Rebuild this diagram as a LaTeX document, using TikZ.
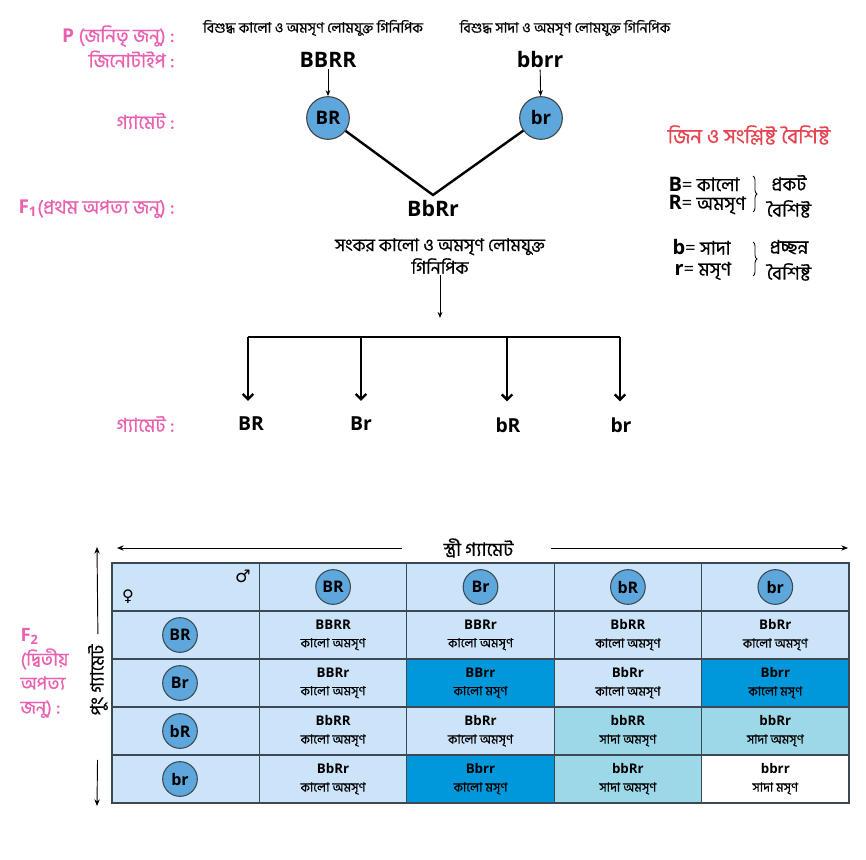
\documentclass[tikz,border=0pt]{standalone}
\usepackage{fontspec}
\setmainfont{Open Sans}
\newfontfamily\bn[Script=Bengali, FakeBold=0.5]{Hind Siliguri}
\newfontfamily\sym{DejaVu Sans}
\usetikzlibrary{arrows.meta,decorations.pathreplacing}

\definecolor{lblpink}{RGB}{234,96,176}
\definecolor{headred}{RGB}{229,68,80}
\definecolor{lightcell}{RGB}{204,228,250}
\definecolor{darkcell}{RGB}{0,152,218}
\definecolor{tealcell}{RGB}{157,216,233}
\definecolor{gamfill}{RGB}{94,167,220}
\definecolor{gridc}{RGB}{62,72,82}

\newcommand\gtype[1]{{\rmfamily\bfseries\fontsize{10}{13}\selectfont #1}}

\tikzset{every picture/.style={line width=0.75pt}}
\tikzset{
  pinklbl/.style={anchor=east, inner sep=0.75pt, text=lblpink, font=\bn\fontsize{14.3}{17}\selectfont},
  desc/.style={inner sep=0.75pt, font=\bn\fontsize{10.7}{13}\selectfont},
  geno/.style={inner sep=0.75pt, font=\fontsize{16}{19}\bfseries},
  gamete/.style={circle, draw=black!75, fill=gamfill, minimum size=32pt, inner sep=0pt, line width=0.8pt, font=\fontsize{14}{16}\bfseries},
  tgam/.style={circle, draw=gridc, fill=gamfill, minimum size=26pt, inner sep=0pt, line width=0.8pt, font=\fontsize{12}{14}\bfseries},
  gamtxt/.style={inner sep=0.75pt, font=\fontsize{14.5}{17}\bfseries},
  thinarr/.style={-{Stealth[length=4.5pt,width=3.5pt]}, line width=0.7pt},
  thickarr/.style={-{Straight Barb[length=4pt,width=8pt]}, line width=1.8pt},
  vline/.style={line width=1.8pt},
  tarr/.style={-{Stealth[length=5pt,width=4pt]}, line width=0.7pt},
  brc/.style={decorate, decoration={brace, amplitude=3pt}, line width=0.6pt},
  legl/.style={anchor=west, inner sep=0.75pt, font=\bn\fontsize{14}{16}\selectfont},
  legr/.style={inner sep=0.75pt, font=\bn\fontsize{14}{16}\selectfont},
  pcell/.style={rectangle, draw=gridc, line width=1pt, minimum width=110.55pt, minimum height=36pt, inner sep=0pt, align=center, font=\bn\fontsize{9.5}{13.5}\selectfont},
}

\begin{document}
\begin{tikzpicture}[x=0.75pt,y=0.75pt,yscale=-1,xscale=1]
\useasboundingbox (0,0) rectangle (866,859);

% Text Node
\node (pLbl) [pinklbl] at (176,36) {{\rmfamily\bfseries P} (জনিতৃ জনু) :};
% Text Node
\node (genoLbl) [pinklbl] at (176,59) {জিনোটাইপ :};
% Text Node
\node (gamLblA) [pinklbl] at (176,121) {গ্যামেট :};
% Text Node
\node (f1Lbl) [pinklbl] at (176,209) {{\rmfamily\bfseries F\textsubscript{1}}(প্রথম অপত্য জনু) :};
% Text Node
\node (gamLblB) [pinklbl] at (176,424) {গ্যামেট :};
% Text Node
\node (f2Lbl) [pinklbl, anchor=north west, align=left, font=\bn\fontsize{13.8}{18}\selectfont] at (19,627) {{\rmfamily\bfseries F\textsubscript{2}}\\(দ্বিতীয়\\অপত্য\\জনু) :};

% Text Node
\node (descA) [desc] at (313,28) {বিশুদ্ধ কালো ও অমসৃণ লোমযুক্ত গিনিপিক};
% Text Node
\node (descB) [desc] at (565,28) {বিশুদ্ধ সাদা ও অমসৃণ লোমযুক্ত গিনিপিক};
% Text Node
\node (BBRR) [geno] at (328,60) {BBRR};
% Text Node
\node (bbrr) [geno] at (540,60) {bbrr};

%Shape: Circle
\node (cBR) [gamete] at (328,118) {BR};
%Shape: Circle
\node (cbr) [gamete] at (541,118) {br};

%Straight Lines
\draw [thinarr] (BBRR) -- (cBR);
\draw [thinarr] (bbrr) -- (cbr);

%Straight Lines
\coordinate (vtx) at (433,195);
\draw [vline] (cBR) -- (vtx) -- (cbr);

% Text Node
\node (BbRr) [geno] at (433,209) {BbRr};
% Text Node
\node (f1desc) [desc, align=center, font=\bn\fontsize{13.2}{17}\selectfont] at (440,256) {সংকর কালো ও অমসৃণ লোমযুক্ত\\গিনিপিক};
\coordinate (f1end) at (440,318);
\draw [thinarr] (f1desc) -- (f1end);

%Straight Lines
\coordinate (barL) at (248,337);
\coordinate (barB) at (361,337);
\coordinate (barC) at (507,337);
\coordinate (barR) at (620,337);
\draw [vline] (barL) -- (barR);

% Text Node
\node (gBR) [gamtxt] at (251,424) {BR};
\node (gBr) [gamtxt] at (361,424) {Br};
\node (gbR) [gamtxt] at (508,425) {bR};
\node (gbr) [gamtxt] at (621,425) {br};

\draw [thickarr, shorten >=11pt] (barL) -- (barL |- gBR.north);
\draw [thickarr, shorten >=11pt] (barB) -- (barB |- gBr.north);
\draw [thickarr, shorten >=11pt] (barC) -- (barC |- gbR.north);
\draw [thickarr, shorten >=11pt] (barR) -- (barR |- gbr.north);

% Legend
\node (lgHead) [inner sep=0.75pt, text=headred, font=\bn\fontsize{15.5}{18}\selectfont] at (749,135) {জিন ও সংশ্লিষ্ট বৈশিষ্ট};
\node (lgB) [legl] at (667,184) {{\rmfamily\bfseries\fontsize{15}{18}\selectfont B}{\rmfamily=} কালো};
\node (lgR) [legl] at (667,205) {{\rmfamily\bfseries\fontsize{15}{18}\selectfont R}{\rmfamily=} অমসৃণ};
\node (lgDom) [legr] at (789,183) {প্রকট};
\node (lgDomB) [legr] at (789,209) {বৈশিষ্ট};
\draw [brc] (753,176) -- (753,212);
\node (lgb) [legl] at (671,247) {{\rmfamily\bfseries\fontsize{15}{18}\selectfont b}{\rmfamily=} সাদা};
\node (lgr) [legl] at (673,271) {{\rmfamily\bfseries\fontsize{15}{18}\selectfont r}{\rmfamily=} মসৃণ};
\node (lgRec) [legr] at (789,247) {প্রচ্ছন্ন};
\node (lgRecB) [legr] at (789,272) {বৈশিষ্ট};
\draw [brc] (753,242) -- (753,276);

% Table arrows
\node (stri) [inner sep=0pt, font=\bn\fontsize{14}{16}\selectfont] at (478.5,548) {স্ত্রী গ্যামেট};
\coordinate (striL) at (117,548);
\coordinate (striR) at (848,548);
\draw [tarr, shorten <=31pt] (stri.west) -- (striL);
\draw [tarr, shorten <=28pt] (stri.east) -- (striR);

\node (pung) [rotate=90, inner sep=0pt, font=\bn\fontsize{14}{16}\selectfont] at (98,680) {পুং গ্যামেট};
\coordinate (pungT) at (97,547);
\coordinate (pungB) at (97,806);
\draw [tarr, shorten <=7.5pt] (pung.east) -- (pungT);
\draw [tarr, shorten <=33pt] (pung.west) -- (pungB);

% Header row
\node (h0) [pcell, fill=lightcell] at (185.7,587) {};
\node (fem) [inner sep=0pt, font=\sym\fontsize{12}{14}\selectfont] at (128,597) {♀};
\node (mal) [inner sep=0pt, font=\sym\fontsize{13}{15}\selectfont] at (243,576) {♂};
\node (h1) [pcell, fill=lightcell] at (333.1,587) {};
\node (h2) [pcell, fill=lightcell] at (480.5,587) {};
\node (h3) [pcell, fill=lightcell] at (627.9,587) {};
\node (h4) [pcell, fill=lightcell] at (775.3,587) {};
\node (hc1) [tgam] at (h1) {BR};
\node (hc2) [tgam] at (h2) {Br};
\node (hc3) [tgam] at (h3) {bR};
\node (hc4) [tgam] at (h4) {br};

% Row BR
\node (r1) [pcell, fill=lightcell] at (185.7,635) {};
\node (rc1) [tgam] at (180,635) {BR};
\node (c11) [pcell, fill=lightcell] at (333.1,635) {\gtype{BBRR}\\কালো অমসৃণ};
\node (c12) [pcell, fill=lightcell] at (480.5,635) {\gtype{BBRr}\\কালো অমসৃণ};
\node (c13) [pcell, fill=lightcell] at (627.9,635) {\gtype{BbRR}\\কালো অমসৃণ};
\node (c14) [pcell, fill=lightcell] at (775.3,635) {\gtype{BbRr}\\কালো অমসৃণ};

% Row Br
\node (r2) [pcell, fill=lightcell] at (185.7,683) {};
\node (rc2) [tgam] at (180,683) {Br};
\node (c21) [pcell, fill=lightcell] at (333.1,683) {\gtype{BBRr}\\কালো অমসৃণ};
\node (c22) [pcell, fill=darkcell] at (480.5,683) {\gtype{BBrr}\\কালো মসৃণ};
\node (c23) [pcell, fill=lightcell] at (627.9,683) {\gtype{BbRr}\\কালো অমসৃণ};
\node (c24) [pcell, fill=darkcell] at (775.3,683) {\gtype{Bbrr}\\কালো মসৃণ};

% Row bR
\node (r3) [pcell, fill=lightcell] at (185.7,731) {};
\node (rc3) [tgam] at (180,731) {bR};
\node (c31) [pcell, fill=lightcell] at (333.1,731) {\gtype{BbRR}\\কালো অমসৃণ};
\node (c32) [pcell, fill=lightcell] at (480.5,731) {\gtype{BbRr}\\কালো অমসৃণ};
\node (c33) [pcell, fill=tealcell] at (627.9,731) {\gtype{bbRR}\\সাদা অমসৃণ};
\node (c34) [pcell, fill=tealcell] at (775.3,731) {\gtype{bbRr}\\সাদা অমসৃণ};

% Row br
\node (r4) [pcell, fill=lightcell] at (185.7,779) {};
\node (rc4) [tgam] at (180,779) {br};
\node (c41) [pcell, fill=lightcell] at (333.1,779) {\gtype{BbRr}\\কালো অমসৃণ};
\node (c42) [pcell, fill=darkcell] at (480.5,779) {\gtype{Bbrr}\\কালো মসৃণ};
\node (c43) [pcell, fill=tealcell] at (627.9,779) {\gtype{bbRr}\\সাদা অমসৃণ};
\node (c44) [pcell, fill=white] at (775.3,779) {\gtype{bbrr}\\সাদা মসৃণ};
\end{tikzpicture}
\end{document}
